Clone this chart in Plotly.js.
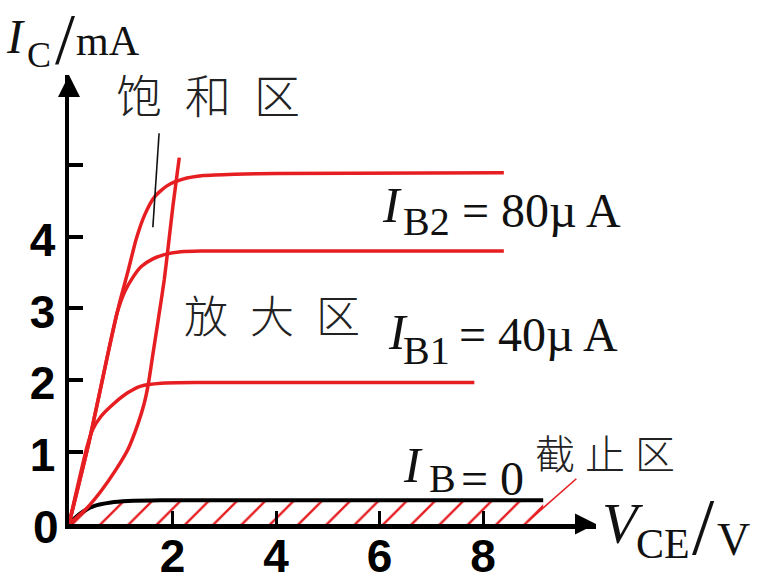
<!DOCTYPE html>
<html><head><meta charset="utf-8">
<script src="https://cdn.plot.ly/plotly-3.0.1.min.js"></script>
<style>html,body{margin:0;padding:0;background:#fff}#chart{width:766px;height:581px}</style>
</head><body><div id="chart"></div>
<script>
// ---- data (V_CE in V, I_C in mA) ----
const vIB2 = [0, 0.39, 0.77, 0.97, 1.14, 1.30, 1.46, 1.66, 1.90, 2.20, 2.60, 3.20, 4.00, 8.40];
const iIB2 = [0, 1.15, 2.43, 3.06, 3.52, 3.97, 4.30, 4.56, 4.71, 4.80, 4.85, 4.87, 4.88, 4.89];
const vMid = [0, 0.39, 0.77, 0.93, 1.08, 1.24, 1.39, 1.62, 1.84, 2.16, 2.55, 3.32, 8.40];
const iMid = [0, 1.15, 2.43, 2.94, 3.24, 3.44, 3.58, 3.69, 3.75, 3.79, 3.80, 3.80, 3.80];
const vIB1 = [0, 0.35, 0.46, 0.62, 0.81, 1.14, 1.39, 1.78, 2.55, 7.83];
const iIB1 = [0, 1.08, 1.32, 1.50, 1.64, 1.83, 1.92, 1.96, 1.97, 1.97];
const vSat = [0, 0.33, 0.62, 0.91, 1.14, 1.33, 1.45, 1.53, 1.62, 1.74, 1.84, 1.91, 2.01, 2.13];
const iSat = [0, 0.21, 0.46, 0.76, 1.04, 1.39, 1.67, 1.94, 2.36, 2.92, 3.40, 3.82, 4.44, 5.10];
const vIB0 = [0, 0.14, 0.29, 0.48, 0.81, 1.14, 1.78, 9.16];
const iIB0 = [0, 0.10, 0.18, 0.25, 0.30, 0.32, 0.33, 0.33];
const vLeadSat = [1.74, 1.62];
const iLeadSat = [5.44, 4.13];
const vLeadCut = [8.87, 9.80];
const iLeadCut = [0.04, 0.63];
const xTickVals = [2, 4, 6, 8];
const xTickText = ['2', '4', '6', '8'];
const yTickVals = [1, 2, 3, 4, 5];
const yTickText = ['1', '2', '3', '4', ''];

// ---- layout geometry ----
const W = 766, H = 581, L = 69, B = 57, PXV = 51.75, PXI = 71.84, XMAX = 10.18, YMAX = 6.25;
const PW = XMAX * PXV, PH = YMAX * PXI;
const RED = '#e61e22';
const PX = px => (px - L) / PW;          // pixel -> paper x
const PY = py => (H - B - py) / PH;      // pixel -> paper y

const line = (x, y, color, width, extra) => Object.assign({
  x, y, type: 'scatter', mode: 'lines', cliponaxis: false, hoverinfo: 'skip',
  line: {color, width, shape: 'spline', smoothing: 0.6}
}, extra || {});

const traces = [
  line(vIB0, iIB0, '#000', 4, {fill: 'tozeroy', fillcolor: 'rgba(0,0,0,0)',
       fillpattern: {shape: '/', fgcolor: RED, size: 20, solidity: 0.12}}),
  line(vIB1, iIB1, RED, 3.5),
  line(vMid, iMid, RED, 3.5),
  line(vIB2, iIB2, RED, 3.5),
  line(vSat, iSat, RED, 3.5),
  line(vLeadSat, iLeadSat, '#111', 1.6, {line: {color: '#111', width: 1.6}}),
  line(vLeadCut, iLeadCut, RED, 1.6, {line: {color: RED, width: 1.6}}),
  {x: [0], y: [YMAX], type: 'scatter', mode: 'markers', cliponaxis: false, hoverinfo: 'skip',
   marker: {symbol: 'arrow-up', size: 22, color: '#000'}},
  {x: [XMAX], y: [0], type: 'scatter', mode: 'markers', cliponaxis: false, hoverinfo: 'skip',
   marker: {symbol: 'arrow-right', size: 21, color: '#000'}}
];

const SERIF = 'Liberation Serif, Times New Roman, serif';
const SANS = 'Liberation Sans, Arial, sans-serif';
const CJK = 'Noto Sans CJK SC, sans-serif';
function T(text, cx, cy, size, family, extra) {
  return Object.assign({
    text, x: PX(cx), y: PY(cy), xref: 'paper', yref: 'paper', showarrow: false,
    xanchor: 'center', yanchor: 'middle',
    font: {family, size, color: '#111'}
  }, extra || {});
}
const cjkFont = size => ({font: {family: CJK, size, weight: 300, color: '#222'}});
const annotations = [
  T('0', 46, 527, 46, SANS, {font: {family: SANS, size: 46, weight: 'bold', color: '#000'}}),
  // I_C / mA
  T('<i>I</i>', 16, 37, 48, SERIF),
  T('C', 39, 55, 36, SERIF),
  T('/', 65, 39, 72, SERIF),
  T('mA', 108, 41, 42, SERIF),
  // V_CE / V
  T('<i>V</i>', 623, 523, 58, SERIF),
  T('CE', 663, 544, 42, SERIF),
  T('/', 703, 527, 80, SERIF),
  T('V', 733, 539, 46, SERIF),
  // I_B2 = 80uA
  T('<i>I</i>', 392, 205, 50, SERIF),
  T('B2', 426, 221, 40, SERIF),
  T('= 80\u00b5 A', 541, 210, 48, SERIF),
  // I_B1 = 40uA
  T('<i>I</i>', 398, 332, 50, SERIF),
  T('B1', 426, 350, 40, SERIF),
  T('= 40\u00b5 A', 538, 334, 48, SERIF),
  // I_B = 0
  T('<i>I</i>', 413, 465, 50, SERIF),
  T('B', 442, 478, 40, SERIF),
  T('= 0', 492, 478, 48, SERIF),
  // region labels
  T('饱\u2002和\u2002区', 208, 93, 46, CJK, cjkFont(46)),
  T('放\u2002大\u2002区', 272, 314, 44, CJK, cjkFont(44)),
  T('截\u2005止\u2005区', 605, 452, 40, CJK, cjkFont(40))
];

const axisCommon = {
  showline: true, linewidth: 4.5, linecolor: '#000', ticks: 'inside', tickcolor: '#000',
  showgrid: false, zeroline: false, fixedrange: true,
  tickfont: {family: SANS, size: 46, weight: 'bold', color: '#000'}
};
const layout = {
  width: W, height: H, autosize: false, showlegend: false,
  paper_bgcolor: '#fff', plot_bgcolor: '#fff',
  margin: {l: L, b: B, r: W - L - PW, t: H - B - PH, pad: 0},
  xaxis: Object.assign({}, axisCommon, {range: [0, XMAX], tickvals: xTickVals, ticktext: xTickText,
    ticklen: 13, tickwidth: 3, ticklabelstandoff: -12}),
  yaxis: Object.assign({}, axisCommon, {range: [0, YMAX], tickvals: yTickVals, ticktext: yTickText,
    ticklen: 14, tickwidth: 4, ticklabelshift: 3}),
  annotations
};
Plotly.newPlot('chart', traces, layout, {staticPlot: true, displayModeBar: false});
</script>
</body></html>
